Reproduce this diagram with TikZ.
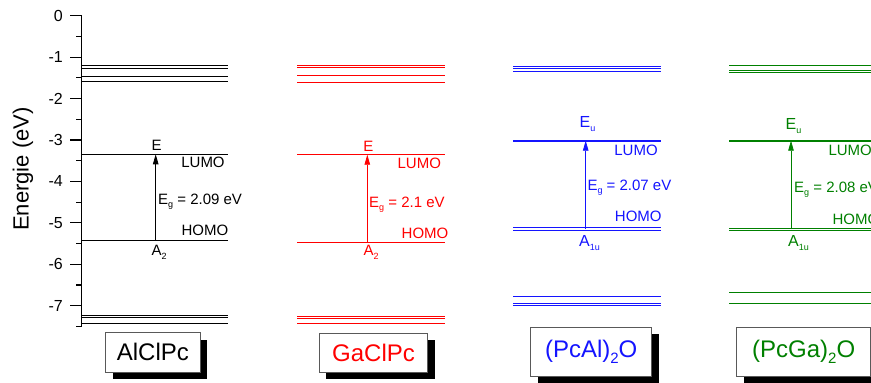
\documentclass[tikz,border=0pt]{standalone}
\usepackage{fontspec}
\setmainfont{Liberation Sans}
\usetikzlibrary{arrows.meta,shadows}
\newcommand\lowsub[1]{\raisebox{-0.5ex}{\fontsize{9}{9}\selectfont #1}}
\newcommand\boxsub[1]{\raisebox{-0.45ex}{\fontsize{15}{15}\selectfont #1}}
\definecolor{cred}{RGB}{255,0,0}
\definecolor{cblue}{RGB}{20,20,255}
\definecolor{cgreen}{RGB}{0,128,0}
\begin{document}
\begin{tikzpicture}[x=1pt,y=-1pt,
  lvl/.style={line width=0.8pt},
  lumo/.style={line width=1.7pt},
  lab/.style={font=\fontsize{15}{15}\selectfont, inner sep=0pt},
  gaparrow/.style={-{Triangle[length=10pt,width=5.5pt]}, line width=0.8pt},
  boxlbl/.style={draw=black!65, line width=0.8pt, fill=white,
    font=\fontsize{24}{24}\selectfont, inner sep=0pt,
    drop shadow={shadow xshift=7pt,shadow yshift=-7pt,fill=black,opacity=1}},
  tick/.style={line width=1.2pt}]
\useasboundingbox (0,0) rectangle (871,383);
\clip (0,0) rectangle (871,383);
\fill[white] (0,0) rectangle (871,383);

% axis
\draw[line width=1.5pt] (81.7,15.7) -- (81.7,326.4);
\foreach \e in {0,...,7}{
  \draw[tick] (70,{15.7+41.43*\e}) -- (81.7,{15.7+41.43*\e});
  \node[font=\fontsize{16}{16}\selectfont, anchor=east, inner sep=0pt] (t\e) at (63,{15.7+41.43*\e}) {\ifnum\e=0 0\else -\e\fi};
}
\foreach \e in {0.5,1.5,...,7.5}{
  \draw[tick] (76,{15.7+41.43*\e}) -- (81.7,{15.7+41.43*\e});
}
\node[rotate=90, font=\fontsize{22}{22}\selectfont, inner sep=0pt] (ylab) at (23,169) {Energie (eV)};

% ---- AlClPc (black)
\begin{scope}[black]
\foreach \y in {65.7,68.3,76.3,81.3,154.3,240,315.7,317.7,323.7}
  \draw[lvl] (82,\y) -- (228.3,\y);
\coordinate (h1) at (155.7,240);
\coordinate (l1) at (155.7,154.3);
\draw[gaparrow] (h1) -- (l1);
\node[lab, anchor=base] (e1) at (156.7,150) {E};
\node[lab, anchor=base] (lu1) at (203,167) {LUMO};
\node[lab, anchor=base west] (g1) at (158,204) {E\lowsub{g} = 2.09 eV};
\node[lab, anchor=base] (ho1) at (205,235.5) {HOMO};
\node[lab, anchor=base west] (a1) at (151.5,255.5) {A\lowsub{2}};
\end{scope}
\node[boxlbl, minimum width=94.3pt, minimum height=39.3pt, text=black] (b1) at (152.85,352.35) {AlClPc};

% ---- GaClPc (red)
\begin{scope}[cred]
\foreach \y in {65.7,67.7,75.7,82.3,154.7,242.3,316.7,318.3,323.3}
  \draw[lvl] (297.3,\y) -- (445,\y);
\coordinate (h2) at (367.3,242.3);
\coordinate (l2) at (367.3,154.7);
\draw[gaparrow] (h2) -- (l2);
\node[lab, anchor=base] (e2) at (368.3,151) {E};
\node[lab, anchor=base] (lu2) at (419.3,168.5) {LUMO};
\node[lab, anchor=base west] (g2) at (369,207) {E\lowsub{g} = 2.1 eV};
\node[lab, anchor=base] (ho2) at (425,238) {HOMO};
\node[lab, anchor=base west] (a2) at (363.5,255.5) {A\lowsub{2}};
\end{scope}
\node[boxlbl, minimum width=108.4pt, minimum height=38.7pt, text=cred] (b2) at (373.5,352.65) {GaClPc};

% ---- (PcAl)2O (blue)
\begin{scope}[cblue]
\foreach \y in {66,68.3,71.7,227.3,230.7,296,303,305}
  \draw[lvl] (513.3,\y) -- (661,\y);
\draw[lumo] (513.3,140.7) -- (661,140.7);
\coordinate (h3) at (585.7,229);
\coordinate (l3) at (585.7,140.7);
\draw[gaparrow] (h3) -- (l3);
\node[lab, anchor=base west, font=\fontsize{16}{16}\selectfont] (e3) at (579.5,127.5) {E\lowsub{u}};
\node[lab, anchor=base] (lu3) at (636,155) {LUMO};
\node[lab, anchor=base west] (g3) at (587.3,190) {E\lowsub{g} = 2.07 eV};
\node[lab, anchor=base] (ho3) at (638.3,221) {HOMO};
\node[lab, anchor=base west, font=\fontsize{16}{16}\selectfont] (a3) at (579,246.5) {A\lowsub{1u}};
\end{scope}
\node[boxlbl, minimum width=121pt, minimum height=48.7pt, text=cblue] (b3) at (591.2,351.65) {(PcAl)\boxsub{2}O};

% ---- (PcGa)2O (green)
\begin{scope}[cgreen]
\foreach \y in {65.7,70.7,72.3,228.3,230.3,292.3,303}
  \draw[lvl] (729,\y) -- (880,\y);
\draw[lumo] (729,140.7) -- (880,140.7);
\coordinate (h4) at (791,229.3);
\coordinate (l4) at (791,140.7);
\draw[gaparrow] (h4) -- (l4);
\node[lab, anchor=base west, font=\fontsize{16}{16}\selectfont] (e4) at (785.5,129) {E\lowsub{u}};
\node[lab, anchor=base west] (lu4) at (828.3,155) {LUMO};
\node[lab, anchor=base west] (g4) at (794,192) {E\lowsub{g} = 2.08 eV};
\node[lab, anchor=base west] (ho4) at (832.3,224) {HOMO};
\node[lab, anchor=base west, font=\fontsize{16}{16}\selectfont] (a4) at (788,246.5) {A\lowsub{1u}};
\end{scope}
\node[boxlbl, minimum width=134pt, minimum height=48.7pt, text=cgreen] (b4) at (803.7,351.65) {(PcGa)\boxsub{2}O};
\end{tikzpicture}
\end{document}
